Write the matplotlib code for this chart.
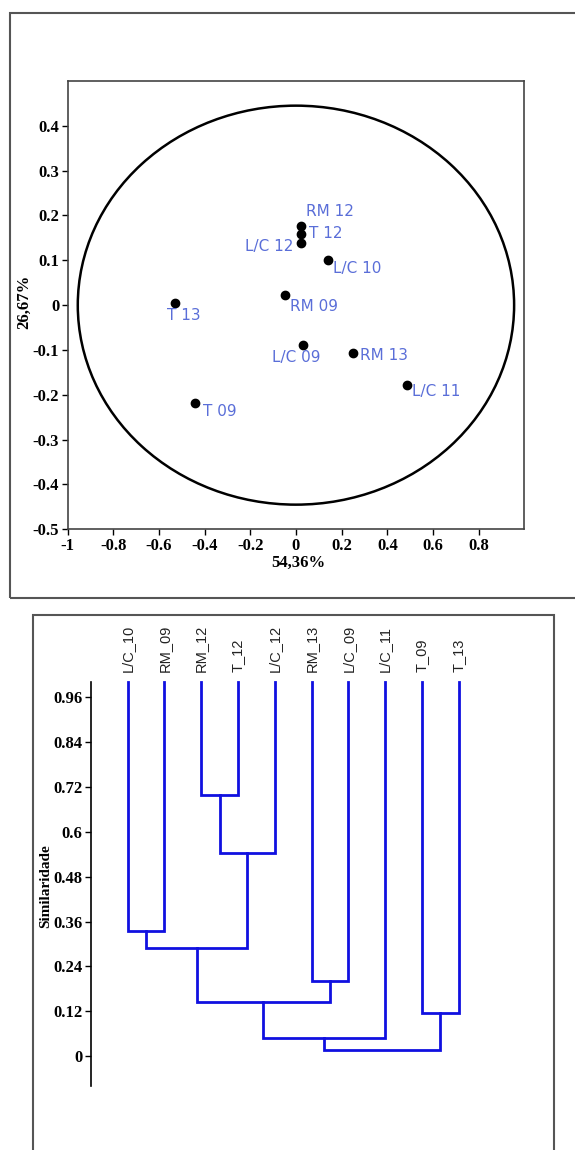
import matplotlib
matplotlib.use("Agg")
import matplotlib.pyplot as plt
from matplotlib.patches import Ellipse, Rectangle

# --- PCA biplot data ---
samples = ["RM 12", "T 12", "L/C 12", "L/C 10", "RM 09", "T 13", "L/C 09", "RM 13", "L/C 11", "T 09"]
pc1 = [0.021, 0.021, 0.021, 0.139, -0.046, -0.528, 0.031, 0.251, 0.486, -0.444]
pc2 = [0.177, 0.159, 0.138, 0.101, 0.022, 0.004, -0.089, -0.107, -0.178, -0.218]
pc1_label = "54,36%"
pc2_label = "26,67%"
x_ticks = [-1, -0.8, -0.6, -0.4, -0.2, 0, 0.2, 0.4, 0.6, 0.8]
y_ticks = [-0.5, -0.4, -0.3, -0.2, -0.1, 0, 0.1, 0.2, 0.3, 0.4]

# --- dendrogram data (UPGMA similarity) ---
leaves = ["L/C_10", "RM_09", "RM_12", "T_12", "L/C_12", "RM_13", "L/C_09", "L/C_11", "T_09", "T_13"]
merge_a = [2, 10, 0, 12, 5, 13, 8, 15, 17]
merge_b = [3, 4, 1, 11, 6, 14, 9, 7, 16]
merge_h = [0.698, 0.543, 0.335, 0.289, 0.200, 0.145, 0.114, 0.049, 0.015]
sim_ticks = [0, 0.12, 0.24, 0.36, 0.48, 0.6, 0.72, 0.84, 0.96]

# label offsets in points (dx, dy, ha)
label_off = {
    "RM 12": (4, 10, "left"), "T 12": (6, 0, "left"), "L/C 12": (-5, -2, "right"),
    "L/C 10": (4, -6, "left"), "RM 09": (3, -8, "left"), "T 13": (6, -9, "center"),
    "L/C 09": (-5, -9, "center"), "RM 13": (5, -1.5, "left"), "L/C 11": (3.5, -5, "left"),
    "T 09": (6, -6, "left"),
}

W, H = 575, 1150
SERIF = dict(family="Liberation Serif", weight="bold")
BLUE_TXT = "#5a6ed8"


def px(x0, y0, x1, y1):
    """pixel box (top-left origin) -> figure rect"""
    return [x0 / W, 1 - y1 / H, (x1 - x0) / W, (y1 - y0) / H]


fig = plt.figure(figsize=(W / 100, H / 100), dpi=100)

# outer frames
fig.patches.append(Rectangle((9.9 / W, 1 - 598 / H), 600 / W, (598 - 13.3) / H,
                             transform=fig.transFigure, fill=False, ec="#555555", lw=1.5))
fig.patches.append(Rectangle((33.4 / W, -0.05), (553.7 - 33.4) / W, 0.05 + 1 - 615 / H,
                             transform=fig.transFigure, fill=False, ec="#555555", lw=1.5))

# ---- top: PCA ----
ax = fig.add_axes(px(67.5, 81, 524.4, 529.3))
ax.set_xlim(-1, 1)
ax.set_ylim(-0.5, 0.5)
ax.add_patch(Ellipse((0, 0), 1.91, 0.89, fill=False, ec="black", lw=1.8))
ax.plot(pc1, pc2, "o", color="black", ms=6, ls="none")
for s, x, y in zip(samples, pc1, pc2):
    dx, dy, ha = label_off[s]
    ax.annotate(s, (x, y), xytext=(dx, dy), textcoords="offset points",
                ha=ha, va="center", color=BLUE_TXT, fontsize=11, family="DejaVu Sans")
ax.set_xticks(x_ticks)
ax.set_xticklabels([f"{t:g}" for t in x_ticks])
ax.set_yticks(y_ticks)
ax.set_yticklabels([f"{t:g}" for t in y_ticks])
ax.tick_params(direction="out", length=4, width=1, pad=2, top=False, right=False)
for lab in ax.get_xticklabels() + ax.get_yticklabels():
    lab.set_fontproperties(matplotlib.font_manager.FontProperties(size=12, **SERIF))
for sp in ax.spines.values():
    sp.set_color("#444444"); sp.set_linewidth(1.2)
fig.text(298 / W, 1 - 562.7 / H, pc1_label, ha="center", va="center", fontsize=12, **SERIF)
fig.text(24 / W, 1 - 301.7 / H, pc2_label, ha="center", va="center", rotation=90, fontsize=12, **SERIF)

# ---- bottom: dendrogram ----
ax2 = fig.add_axes(px(90.8, 682.3, 90.8 + 11 * 36.8, 1086))
ax2.set_xlim(0, 11)
ax2.set_ylim(-0.08, 1.0)
pos = {i: (i + 1, 1.0) for i in range(len(leaves))}
for k, (a, b, h) in enumerate(zip(merge_a, merge_b, merge_h)):
    xa, ha_ = pos[a]
    xb, hb = pos[b]
    ax2.plot([xa, xa, xb, xb], [ha_, h, h, hb], color="#1010e0", lw=2, clip_on=False,
             solid_joinstyle="miter")
    pos[len(leaves) + k] = ((xa + xb) / 2, h)
for i, name in enumerate(leaves):
    ax2.text(i + 1, 1.028, name, rotation=90, ha="center", va="bottom", fontsize=10.5,
             family="Liberation Sans", color="#222222")
for s in ["top", "right", "bottom"]:
    ax2.spines[s].set_visible(False)
ax2.spines["left"].set_linewidth(1.2)
ax2.set_xticks([])
ax2.set_yticks(sim_ticks)
ax2.set_yticklabels([f"{t:g}" for t in sim_ticks])
ax2.tick_params(direction="out", length=4, width=1, pad=2)
for lab in ax2.get_yticklabels():
    lab.set_fontproperties(matplotlib.font_manager.FontProperties(size=12, **SERIF))
fig.text(45.5 / W, 1 - 886 / H, "Similaridade", ha="center", va="center", rotation=90,
         fontsize=11, **SERIF)

fig.savefig("out.png", dpi=100)
